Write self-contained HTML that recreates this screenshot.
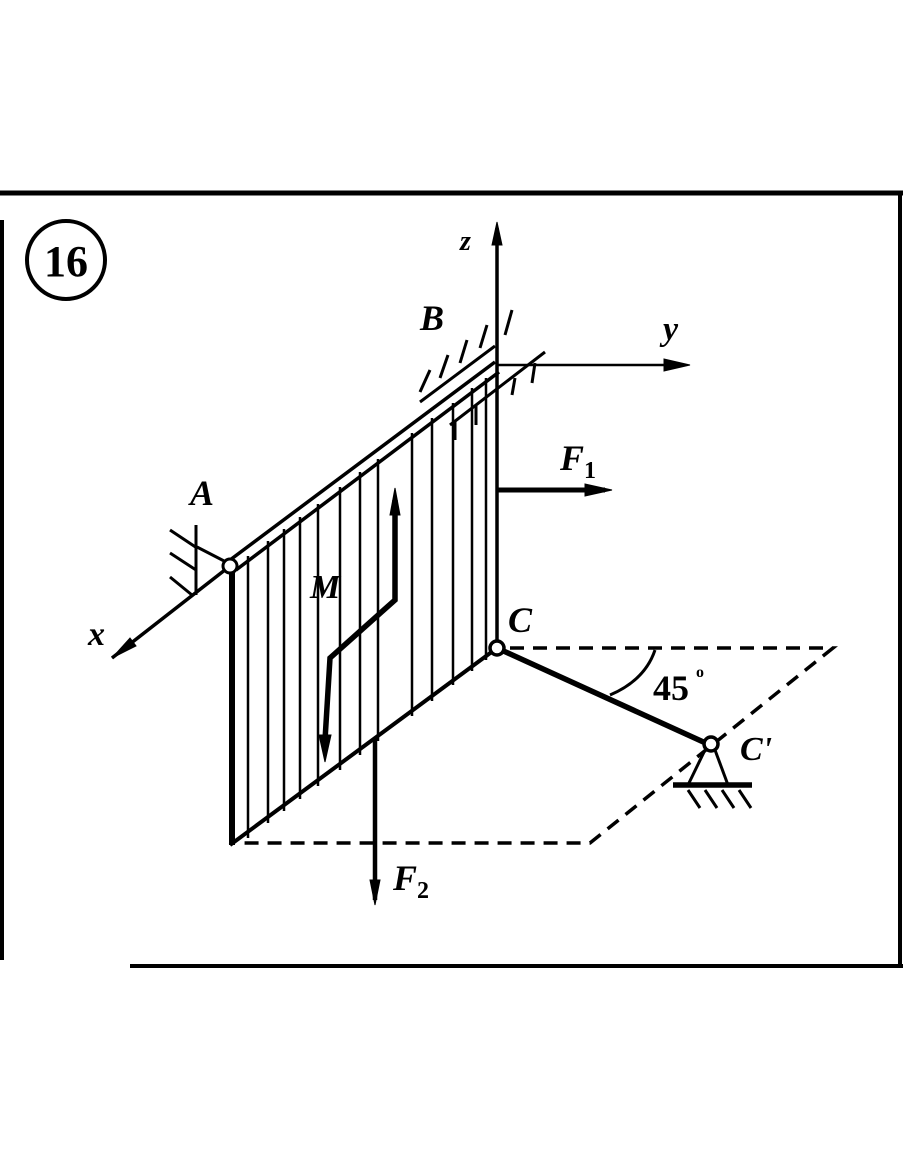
<!DOCTYPE html>
<html><head><style>html,body{margin:0;padding:0;background:#fff}svg{display:block}</style></head>
<body>
<svg width="910" height="1155" viewBox="0 0 910 1155" xmlns="http://www.w3.org/2000/svg" font-family="Liberation Serif, serif" font-style="italic">
<g stroke="#000" fill="none">
<line x1="0" y1="193" x2="903" y2="193" stroke-width="5"/>
<line x1="900" y1="193" x2="900" y2="966" stroke-width="4"/>
<line x1="130" y1="966" x2="903" y2="966" stroke-width="4"/>
<line x1="2" y1="220" x2="2" y2="960" stroke-width="4"/>
</g>
<circle cx="66" cy="260" r="39" fill="none" stroke="#000" stroke-width="4"/>
<text x="66" y="276" font-size="44" font-weight="bold" font-style="normal" text-anchor="middle">16</text>

<g stroke="#000" stroke-width="2.5">
<line x1="248" y1="556" x2="248" y2="838"/>
<line x1="268" y1="541" x2="268" y2="823"/>
<line x1="284" y1="529" x2="284" y2="811"/>
<line x1="300" y1="517" x2="300" y2="799"/>
<line x1="318" y1="504" x2="318" y2="786"/>
<line x1="340" y1="487" x2="340" y2="770"/>
<line x1="360" y1="472" x2="360" y2="755"/>
<line x1="378" y1="459" x2="378" y2="741"/>
<line x1="412" y1="433" x2="412" y2="716"/>
<line x1="432" y1="418" x2="432" y2="701"/>
<line x1="453" y1="403" x2="453" y2="685"/>
<line x1="472" y1="388" x2="472" y2="671"/>
<line x1="486" y1="378" x2="486" y2="660"/>
</g>
<g stroke="#000" fill="none">
<line x1="232" y1="565" x2="232" y2="845" stroke-width="6"/>
<line x1="230" y1="845" x2="497" y2="648" stroke-width="4"/>
<line x1="230" y1="560" x2="495" y2="362" stroke-width="3.5"/>
<line x1="236" y1="570" x2="499" y2="372" stroke-width="3.5"/>
<line x1="497" y1="228" x2="497" y2="648" stroke-width="3.5"/>
<polygon points="497,222 492,245 502,245" fill="#000"/>
<line x1="497" y1="365" x2="685" y2="365" stroke-width="2.5"/>
<polygon points="690,365 664,359 664,371" fill="#000"/>
<g stroke-width="3">
<line x1="420" y1="392" x2="430" y2="370"/>
<line x1="440" y1="378" x2="448" y2="355"/>
<line x1="460" y1="363" x2="467" y2="340"/>
<line x1="480" y1="348" x2="487" y2="325"/>
<line x1="505" y1="335" x2="512" y2="310"/>
<line x1="420" y1="402" x2="495" y2="346"/>
<line x1="450" y1="425" x2="545" y2="352"/>
<line x1="455" y1="420" x2="455" y2="440"/>
<line x1="476" y1="405" x2="476" y2="425"/>
<line x1="515" y1="378" x2="512" y2="395"/>
<line x1="535" y1="363" x2="532" y2="383"/>
</g>
<line x1="497" y1="490" x2="605" y2="490" stroke-width="5"/>
<polygon points="612,490 585,484 585,496" fill="#000"/>
<line x1="230" y1="566" x2="112" y2="658" stroke-width="3.5"/>
<polygon points="112,658 130,638 136,646" fill="#000"/>
<line x1="228" y1="563" x2="197" y2="547" stroke-width="3"/>
<line x1="196" y1="525" x2="196" y2="595" stroke-width="3"/>
<line x1="170" y1="530" x2="197" y2="548" stroke-width="3"/>
<line x1="170" y1="553" x2="196" y2="570" stroke-width="3"/>
<line x1="170" y1="577" x2="192" y2="595" stroke-width="3"/>
<circle cx="230" cy="566" r="7" fill="#fff" stroke-width="3"/>
<polyline points="395,500 395,600 330,658 325,740" stroke-width="5.5"/>
<polygon points="395,488 390,515 400,515" fill="#000"/>
<polygon points="325,762 319,735 331,735" fill="#000"/>
<line x1="375" y1="738" x2="375" y2="900" stroke-width="4.5"/>
<polygon points="375,905 370,880 380,880" fill="#000"/>
<polyline points="510,648 833,648 590,843 238,843" stroke-width="3.5" stroke-dasharray="14,9"/>
<line x1="497" y1="648" x2="710" y2="745" stroke-width="5.5"/>
<path d="M655,650 Q645,680 610,695" stroke-width="3"/>
<line x1="705" y1="750" x2="688" y2="785" stroke-width="3"/>
<line x1="715" y1="750" x2="728" y2="785" stroke-width="3"/>
<line x1="673" y1="785" x2="752" y2="785" stroke-width="5.5"/>
<line x1="688" y1="790" x2="700" y2="808" stroke-width="3"/>
<line x1="705" y1="790" x2="717" y2="808" stroke-width="3"/>
<line x1="722" y1="790" x2="734" y2="808" stroke-width="3"/>
<line x1="739" y1="790" x2="751" y2="808" stroke-width="3"/>
<circle cx="497" cy="648" r="7" fill="#fff" stroke-width="3.5"/>
<circle cx="711" cy="744" r="7" fill="#fff" stroke-width="3.5"/>
</g>
<g fill="#000" font-weight="bold">
<text x="460" y="250" font-size="28">z</text>
<text x="420" y="330" font-size="36">B</text>
<text x="663" y="340" font-size="34">y</text>
<text x="560" y="470" font-size="36">F<tspan font-size="24" dy="8" font-style="normal">1</tspan></text>
<text x="190" y="505" font-size="36">A</text>
<text x="310" y="598" font-size="34">M</text>
<text x="88" y="645" font-size="34">x</text>
<text x="508" y="632" font-size="36">C</text>
<text x="653" y="700" font-size="36" font-style="normal">45</text>
<text x="696" y="677" font-size="16" font-style="normal">o</text>
<text x="740" y="760" font-size="34">C'</text>
<text x="393" y="890" font-size="36">F<tspan font-size="24" dy="8" font-style="normal">2</tspan></text>
</g>
</svg>
</body></html>
